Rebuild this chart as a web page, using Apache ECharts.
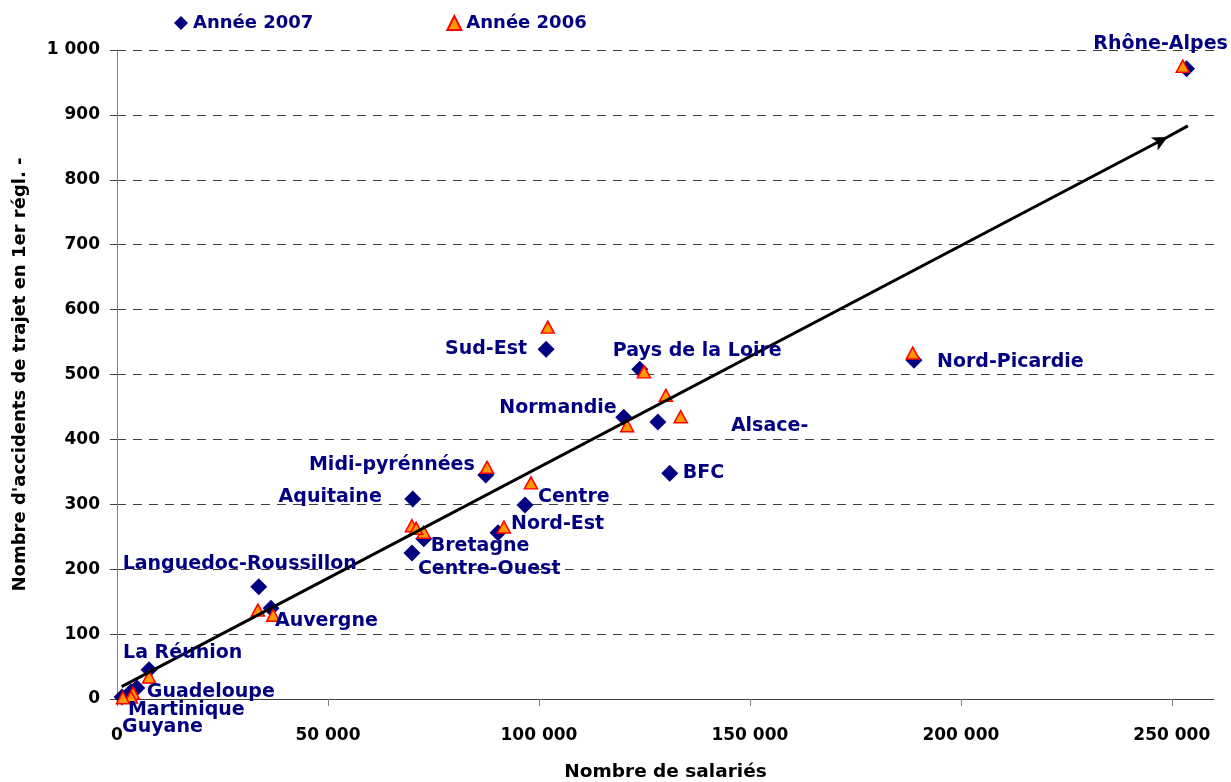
<!DOCTYPE html>
<html><head><meta charset="utf-8">
<script src="https://cdn.jsdelivr.net/npm/echarts@6/dist/echarts.min.js"></script>
<style>html,body{margin:0;padding:0;background:#fff}#c{width:1231px;height:782px}</style>
</head><body><div id="c"></div>
<script>
// ---- data ----
const regions = ['Rhône-Alpes','Nord-Picardie','Sud-Est','Pays de la Loire','Normandie','Alsace-','BFC',
  'Midi-pyrénnées','Aquitaine','Centre','Nord-Est','Bretagne','Centre-Ouest','Languedoc-Roussillon',
  'Auvergne','La Réunion','Guadeloupe','Martinique','Guyane'];
const salaries2007 = [253500,188900,101700,123900,120100,128200,131000,87400,70100,96700,90300,72700,69900,33600,36500,7600,4700,3300,1200];
const accidents2007 = [971,522,539,508,434,427,348,345,308,299,256,247,225,173,140,45,17,11,3];
const salaries2006 = [252600,188600,102100,124900,120900,133600,130100,87700,69900,98100,91700,72700,70900,33400,37000,7600,3800,3300,1400];
const accidents2006 = [975,533,573,504,421,435,468,357,267,333,265,257,263,137,129,34,9,3,2];
const xTickValues = [0,50000,100000,150000,200000,250000];
const trendX = [1100,249000,253800];
const trendY = [19,866,883];

// ---- label placement (style only): [align, dx, dy] in pixels from the 2007 marker ----
const labelPlace = [
  ['center',-26,-25],['left',23,2],['right',-19,0],['left',-27,-18],['right',-7,-9],['left',73,4],['left',13,0],
  ['right',-11,-10],['right',-31,-2],['left',13,-8],['left',13,-9],['left',7,7],['left',6,16],['center',-19,-23],
  ['left',4,13],['left',-26,-17],['left',10,4],['left',-3,18],['left',0,30]
];

const FONT = 'DejaVu Sans';
const fmt = v => String(v).replace(/\B(?=(\d{3})+(?!\d))/g, ' ');

const data2007 = regions.map((r,i) => [salaries2007[i], accidents2007[i]]);
const data2006 = regions.map((r,i) => [salaries2006[i], accidents2006[i]]);
const labelData = regions.map((r,i) => ({
  name: r,
  value: [salaries2007[i], accidents2007[i]],
  label: {show: true, formatter: r, position: 'inside', align: labelPlace[i][0], verticalAlign: 'middle'}
}));
const trendData = trendX.map((x,i) => {
  if (i === 1) return {value:[x,trendY[i]], symbol:'arrow', symbolSize:[11,15], symbolRotate:-62.3,
                       itemStyle:{color:'#000', opacity:1}};
  return {value:[x,trendY[i]], symbol:'none'};
});

const chart = echarts.init(document.getElementById('c'), null, {renderer:'canvas'});
chart.setOption({
  animation: false,
  backgroundColor: '#fff',
  textStyle: {fontFamily: FONT},
  grid: {left: 117, right: 17, top: 50, bottom: 83, containLabel: false, outerBoundsMode: 'none'},
  legend: {
    left: 169, top: 9, itemWidth: 14, itemHeight: 14, itemGap: 133,
    textStyle: {color: '#000080', fontWeight: 'bold', fontSize: 18, fontFamily: FONT},
    data: [{name:'Année 2007', icon:'diamond'}, {name:'Année 2006', icon:'triangle'}]
  },
  xAxis: {
    type: 'value', min: 0, max: 260000,
    name: 'Nombre de salariés', nameLocation: 'middle', nameGap: 64,
    nameTextStyle: {color:'#000', fontWeight:'bold', fontSize: 18.5, fontFamily: FONT},
    axisLine: {show: true, onZero: false, lineStyle: {color:'#404040', width: 1}},
    axisTick: {show: true, length: 7, customValues: xTickValues, lineStyle: {color:'#808080'}},
    axisLabel: {customValues: xTickValues, formatter: v => fmt(v), margin: 28,
                color:'#000', fontWeight:'bold', fontSize: 17, fontFamily: FONT},
    splitLine: {show: false}
  },
  yAxis: {
    type: 'value', min: 0, max: 1000, interval: 100,
    name: "Nombre d'accidents de trajet en 1er régl. -", nameLocation: 'middle', nameGap: 88, nameRotate: 90,
    nameTextStyle: {color:'#000', fontWeight:'bold', fontSize: 18, fontFamily: FONT},
    axisLine: {show: true, lineStyle: {color:'#808080', width: 1}},
    axisTick: {show: true, length: 7, lineStyle: {color:'#404040'}},
    axisLabel: {formatter: v => fmt(v), margin: 17, color:'#000', fontWeight:'bold', fontSize: 17, fontFamily: FONT},
    splitLine: {show: true, lineStyle: {color:'#404040', type: [9,7], width: 1}}
  },
  series: [
    {
      name: 'Année 2007', type: 'scatter', symbol: 'diamond', symbolSize: 17, z: 2,
      itemStyle: {color: '#000080', opacity: 1},
      data: data2007
    },
    {
      name: 'Année 2006', type: 'scatter', symbol: 'triangle', symbolSize: [13,12], z: 3,
      itemStyle: {color: '#FF9900', borderColor: '#FF0000', borderWidth: 1.5, opacity: 1},
      data: data2006
    },
    {
      name: 'tendance', type: 'line', z: 4, silent: true, showSymbol: true,
      lineStyle: {color:'#000', width: 3},
      data: trendData
    },
    {
      name: 'labels', type: 'scatter', symbol: 'circle', symbolSize: 2, z: 5, silent: true,
      itemStyle: {color: 'rgba(0,0,0,0)', opacity: 1},
      label: {color:'#000080', fontWeight:'bold', fontSize: 19, fontFamily: FONT, opacity: 1},
      labelLayout: p => ({dx: labelPlace[p.dataIndex][1], dy: labelPlace[p.dataIndex][2], hideOverlap: false}),
      data: labelData
    }
  ]
});
</script></body></html>
